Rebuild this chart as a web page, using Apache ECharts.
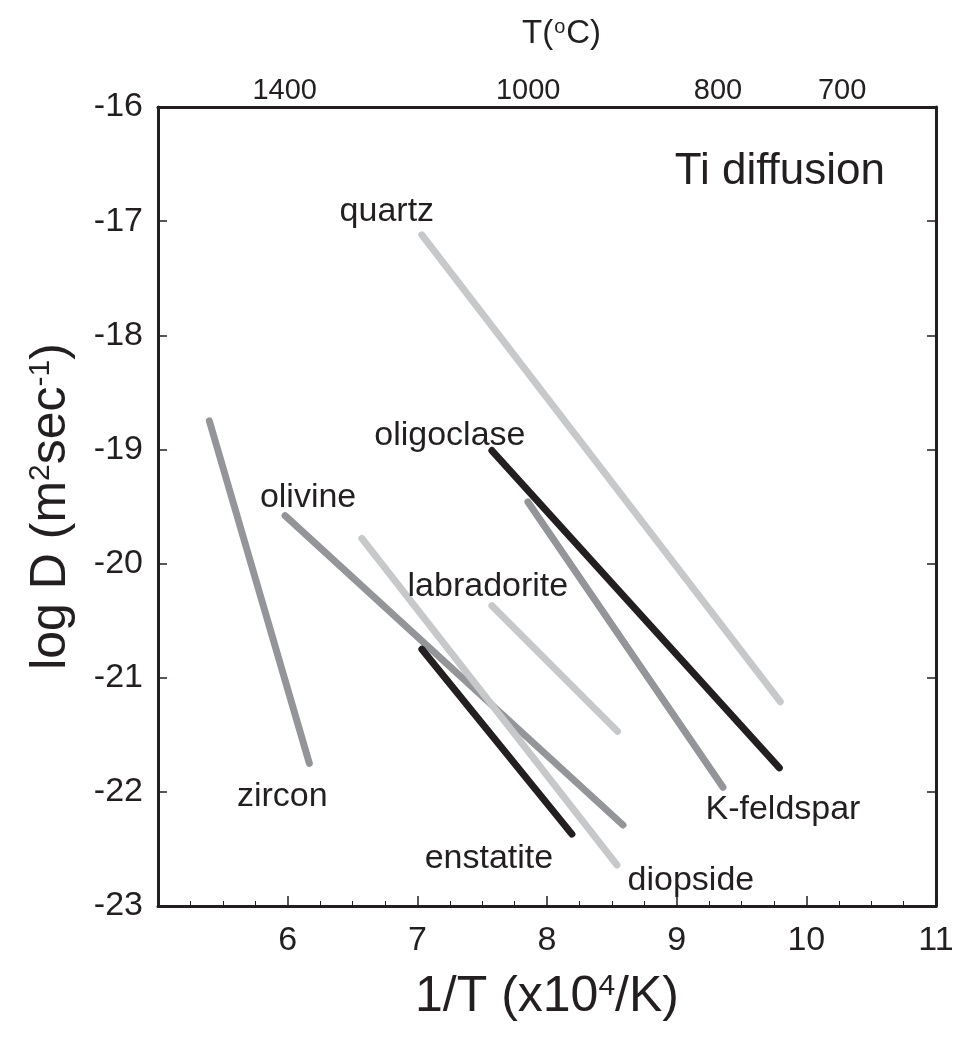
<!DOCTYPE html>
<html>
<head>
<meta charset="utf-8">
<script src="https://cdn.jsdelivr.net/npm/echarts@6/dist/echarts.min.js"></script>
<style>
html,body{margin:0;padding:0;background:#fff;}
#chart{width:959px;height:1042px;}
</style>
</head>
<body>
<div id="chart"></div>
<script>
// ---- data ----
const X_RANGE = [5, 11];
const Y_RANGE = [-23, -16];
const T_LABELS_C = [1400, 1000, 800, 700];

const zircon      = [[5.396, -18.75], [6.167, -21.75]];
const olivine     = [[5.980, -19.58], [8.586, -22.29]];
const diopside    = [[6.572, -19.78], [8.539, -22.64]];
const enstatite   = [[7.035, -20.75], [8.192, -22.37]];
const labradorite = [[7.575, -20.37], [8.544, -21.47]];
const oligoclase  = [[7.575, -19.01], [9.792, -21.79]];
const kfeldspar   = [[7.853, -19.46], [9.357, -21.96]];
const quartz      = [[7.035, -17.12], [9.799, -21.21]];

const MINERALS = ['quartz', 'labradorite', 'olivine', 'diopside', 'zircon', 'K-feldspar', 'enstatite', 'oligoclase'];
const MINERAL_DATA = {
  'quartz': quartz, 'labradorite': labradorite, 'olivine': olivine, 'diopside': diopside,
  'zircon': zircon, 'K-feldspar': kfeldspar, 'enstatite': enstatite, 'oligoclase': oligoclase
};

// ---- styles ----
const DARK = '#231f20', MID = '#939598', LIGHT = '#c7c8ca';
const STYLE = {
  'quartz':      {color: LIGHT, labelAt: 0, offset: [-35, -23]},
  'labradorite': {color: LIGHT, labelAt: 0, offset: [-4, -19]},
  'olivine':     {color: MID,   labelAt: 0, offset: [23, -18]},
  'diopside':    {color: LIGHT, labelAt: 1, offset: [74, 16]},
  'zircon':      {color: MID,   labelAt: 1, offset: [-27, 34]},
  'K-feldspar':  {color: MID,   labelAt: 1, offset: [60, 23]},
  'enstatite':   {color: DARK,  labelAt: 1, offset: [-83, 25]},
  'oligoclase':  {color: DARK,  labelAt: 0, offset: [-42, -14]}
};
const FONT = '"Liberation Sans", Arial, Helvetica, sans-serif';

const series = MINERALS.map(name => ({
  name: name,
  type: 'line',
  data: MINERAL_DATA[name],
  showSymbol: false,
  symbol: 'none',
  silent: true,
  lineStyle: {color: STYLE[name].color, width: 7, cap: 'round'},
  z: 3
}));

series.push({
  type: 'scatter',
  silent: true,
  symbolSize: 1,
  itemStyle: {color: 'rgba(255,255,255,0)'},
  z: 5,
  data: MINERALS.map(name => ({
    value: MINERAL_DATA[name][STYLE[name].labelAt],
    label: {
      show: true,
      position: 'top',
      distance: 0,
      align: 'center',
      verticalAlign: 'middle',
      formatter: name,
      offset: STYLE[name].offset,
      fontSize: 34,
      fontFamily: FONT,
      color: DARK,
      opacity: 1,
      textBorderWidth: 0
    }
  }))
});

const chart = echarts.init(document.getElementById('chart'), null, {renderer: 'canvas'});
chart.setOption({
  animation: false,
  backgroundColor: '#ffffff',
  title: [
    {
      text: '{a|T(}{s|o}{a|C)}',
      left: 517, top: 12,
      textStyle: {
        rich: {
          a: {fontSize: 33, fontWeight: 'normal', fontFamily: FONT, color: DARK},
          s: {fontSize: 20, fontWeight: 'normal', fontFamily: FONT, color: DARK, verticalAlign: 'top', padding: [0, 1, 0, 1]}
        }
      }
    },
    {
      text: 'Ti diffusion',
      right: 69, top: 145,
      textStyle: {fontSize: 44, fontWeight: 'normal', fontFamily: FONT, color: DARK}
    }
  ],
  grid: {left: 158, right: 23, top: 107, bottom: 136, containLabel: false, outerBoundsMode: 'none'},
  xAxis: [
    {
      type: 'value', position: 'bottom',
      min: X_RANGE[0], max: X_RANGE[1], interval: 1,
      axisLine: {show: true, lineStyle: {color: DARK, width: 3}},
      axisTick: {show: true, inside: true, length: 10, lineStyle: {color: DARK, width: 1.5}},
      minorTick: {show: true, splitNumber: 4, length: 5, lineStyle: {color: DARK, width: 1}},
      splitLine: {show: false},
      axisLabel: {
        show: true, margin: 18, fontSize: 34, fontFamily: FONT, color: DARK,
        formatter: v => (v === X_RANGE[0] ? '' : String(v))
      },
      name: '{a|1/T (x10}{s|4}{a|/K)}',
      nameLocation: 'middle', nameGap: 66,
      nameTextStyle: {
        rich: {
          a: {fontSize: 50, fontFamily: FONT, color: DARK},
          s: {fontSize: 30, fontFamily: FONT, color: DARK, verticalAlign: 'top'}
        }
      }
    },
    {
      type: 'value', position: 'top',
      min: X_RANGE[0], max: X_RANGE[1],
      axisLine: {show: true, lineStyle: {color: DARK, width: 3}},
      axisTick: {show: false},
      splitLine: {show: false},
      axisLabel: {
        show: true, margin: 2, fontSize: 29, fontFamily: FONT, color: DARK,
        customValues: T_LABELS_C.map(t => 1e4 / (t + 273.15)),
        formatter: v => String(Math.round(1e4 / v - 273.15))
      }
    }
  ],
  yAxis: [
    {
      type: 'value', position: 'left',
      min: Y_RANGE[0], max: Y_RANGE[1], interval: 1,
      axisLine: {show: true, lineStyle: {color: DARK, width: 3}},
      axisTick: {show: true, inside: true, length: 9, lineStyle: {color: DARK, width: 1.5}},
      splitLine: {show: false},
      axisLabel: {show: true, margin: 15, fontSize: 34, fontFamily: FONT, color: DARK},
      name: '{a|log D (m}{s|2}{a|sec}{s|-1}{a|)}',
      nameLocation: 'middle', nameGap: 82, nameRotate: 90,
      nameTextStyle: {
        rich: {
          a: {fontSize: 50, fontFamily: FONT, color: DARK},
          s: {fontSize: 30, fontFamily: FONT, color: DARK, verticalAlign: 'top'}
        }
      }
    },
    {
      type: 'value', position: 'right',
      min: Y_RANGE[0], max: Y_RANGE[1], interval: 1,
      axisLine: {show: true, lineStyle: {color: DARK, width: 3}},
      axisTick: {show: true, inside: true, length: 9, lineStyle: {color: DARK, width: 1.5}},
      splitLine: {show: false},
      axisLabel: {show: false}
    }
  ],
  series: series
});
</script>
</body>
</html>
